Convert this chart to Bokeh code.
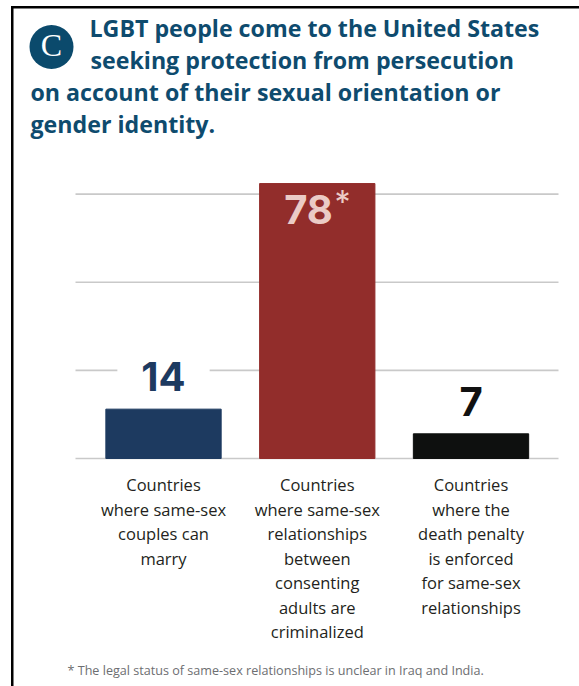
from bokeh.plotting import figure
from bokeh.models import Label, BoxAnnotation, Range1d, ColumnDataSource
from bokeh.embed import file_html
from bokeh.resources import INLINE

# ---- data ----
categories = ["marry", "criminalized", "death penalty"]
values = [14, 78, 7]
value_texts = ["14", "78", "7"]
bar_colors = ["#1d3a60", "#922d2b", "#0e100f"]
value_colors = ["#1d3a60", "#ebcbc6", "#111111"]
grid_ticks = [0, 25, 50, 75]
cat_lines = [
    ["Countries", "where same-sex", "couples can", "marry"],
    ["Countries", "where same-sex", "relationships", "between", "consenting", "adults are", "criminalized"],
    ["Countries", "where the", "death penalty", "is enforced", "for same-sex", "relationships"],
]
title_lines = [
    "LGBT people come to the United States",
    "seeking protection from persecution",
    "on account of their sexual orientation or",
    "gender identity.",
]
badge_text = "C"
footnote = "* The legal status of same-sex relationships is unclear in Iraq and India."

# ---- layout helpers (page pixel -> data coordinates) ----
W, H = 579, 686
PX_PER_X = 153.75
PX_PER_Y = 3.525
BASE_PY = 458.0
SHIFT = 0.42  # empirical em offset of text baseline


def X(px):
    return -0.5724 + (px - 75.0) / PX_PER_X


def Y(py):
    return (BASE_PY - py) / PX_PER_Y


def TY(py, fs):
    return Y(py - SHIFT * fs)


TITLE_COLOR = "#0e4b6e"
FONT = "Open Sans"
NUM_FONT = "Inter"

p = figure(width=W, height=H, x_range=Range1d(X(0), X(W)), y_range=Range1d(Y(H), Y(0)),
           x_axis_type=None, y_axis_type=None, toolbar_location=None,
           output_backend="svg", min_border=0)
p.outline_line_color = None
p.background_fill_color = "white"
p.border_fill_color = "white"

# grid lines (incl. baseline)
p.segment(x0=X(75), x1=X(558), y0=grid_ticks, y1=grid_ticks,
          line_color="#c9c9c9", line_width=1.6)

src = ColumnDataSource(dict(x=list(range(len(categories))), top=values, color=bar_colors))
p.vbar(x="x", top="top", width=0.75, bottom=0, fill_color="color", line_color="color", source=src)

# value labels
VFS = 40
value_baselines = [393, 226, 418]
for i, (t, c, bp) in enumerate(zip(value_texts, value_colors, value_baselines)):
    xx = i if i != 1 else X(308)
    lab = Label(x=xx, y=TY(bp, VFS), text=t, text_align="center", text_baseline="alphabetic",
                text_font=NUM_FONT, text_font_style="bold", text_font_size=f"{VFS}px",
                text_color=c)
    if i == 0:
        lab.background_fill_color = "white"
        lab.padding = (24, 2)
    p.add_layout(lab)
p.add_layout(Label(x=X(334), y=TY(215, 32), text="*", text_align="left", text_baseline="alphabetic",
                   text_font=NUM_FONT, text_font_size="32px", text_color=value_colors[1]))

# category labels
CFS = 16.5
for i, lines in enumerate(cat_lines):
    for k, line in enumerate(lines):
        p.add_layout(Label(x=i, y=TY(491 + 24.5 * k, CFS), text=line, text_align="center",
                           text_baseline="alphabetic", text_font=FONT, text_font_size=f"{CFS}px",
                           text_color="#231f20"))

# border lines (top and left)
p.add_layout(BoxAnnotation(left=X(10.5), right=X(13), top=Y(5.5), bottom=Y(H + 5),
                           fill_color="black", fill_alpha=1, line_color=None))
p.add_layout(BoxAnnotation(left=X(10.5), right=X(W + 5), top=Y(5.5), bottom=Y(8),
                           fill_color="black", fill_alpha=1, line_color=None))

# badge
p.add_layout(BoxAnnotation(left=X(29), right=X(73), top=Y(24.5), bottom=Y(68.5),
                           border_radius=22, fill_color="#0b4a6c", fill_alpha=1,
                           line_color=None))
p.add_layout(Label(x=X(51), y=TY(58, 32), text=badge_text, text_align="center",
                   text_baseline="alphabetic", text_font="Liberation Serif",
                   text_font_size="32px", text_color="white"))

# title
TFS = 23.2
title_pos = [(89, 37), (90, 69.5), (30, 101.5), (30, 133)]
for line, (tx, ty) in zip(title_lines, title_pos):
    p.add_layout(Label(x=X(tx), y=TY(ty, TFS), text=line, text_align="left",
                       text_baseline="alphabetic", text_font=FONT, text_font_style="bold",
                       text_font_size=f"{TFS}px", text_color=TITLE_COLOR))

# footnote
FFS = 12.6
p.add_layout(Label(x=X(67), y=TY(675, FFS), text=footnote, text_align="left",
                   text_baseline="alphabetic", text_font=FONT, text_font_size=f"{FFS}px",
                   text_color="#6d6e71"))

open("out.html", "w").write(file_html(p, INLINE))
